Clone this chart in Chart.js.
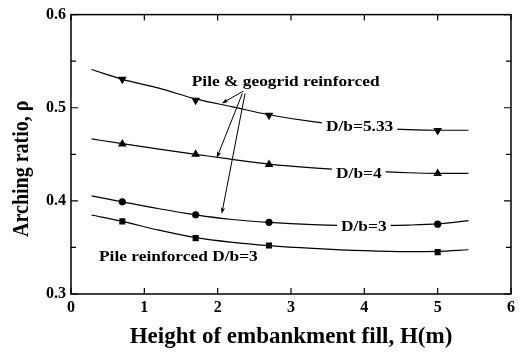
<!DOCTYPE html>
<html><head><meta charset="utf-8">
<script src="https://cdn.jsdelivr.net/npm/chart.js@4.4.1/dist/chart.umd.min.js"></script>
<style>html,body{margin:0;padding:0;background:#fff;}canvas{display:block;}</style>
</head><body>
<canvas id="c" width="521" height="353"></canvas>
<script>
// ---- data ----
const markerX = [0.7, 1.7, 2.7, 5];
const db533Values = [0.5305, 0.508, 0.492, 0.4755];
const db4Values = [0.461, 0.450, 0.439, 0.4295];
const db3Values = [0.399, 0.385, 0.377, 0.375];
const pileValues = [0.378, 0.360, 0.352, 0.345];

const curveX = [0.28, 0.7, 1.2, 1.7, 2.2, 2.7, 3.3, 4.0, 4.6, 5.0, 5.42];
const db533Curve = [0.541, 0.5305, 0.521, 0.5095, 0.501, 0.4925, 0.485, 0.479, 0.4765, 0.4758, 0.4758];
const db4Curve = [0.4665, 0.4615, 0.4555, 0.450, 0.4445, 0.4395, 0.4355, 0.4322, 0.4302, 0.4296, 0.4296];
const db3Curve = [0.4053, 0.399, 0.3915, 0.385, 0.380, 0.3768, 0.3745, 0.3735, 0.374, 0.3752, 0.3787];
const pileCurve = [0.3848, 0.378, 0.3685, 0.3605, 0.3555, 0.352, 0.349, 0.3465, 0.3455, 0.3458, 0.3475];

const xTickValues = [0, 1, 2, 3, 4, 5, 6];
const yTickValues = [0.3, 0.4, 0.5, 0.6];
const yMinorTickValues = [0.35, 0.45, 0.55];
const xTitle = 'Height of embankment fill, H(m)';
const yTitle = 'Arching ratio, \u03C1';
const yTitleCenterValue = 0.4345;

const annotationTexts = ['Pile & geogrid reinforced', 'D/b=5.33', 'D/b=4', 'D/b=3', 'Pile reinforced D/b=3'];
const annotationX = [1.646, 3.477, 3.614, 3.682, 0.382];
const annotationY = [0.5234, 0.475, 0.4241, 0.3681, 0.3351];
const annotationMasked = [false, true, true, true, false];
const arrowFromX = [2.35, 2.336, 2.373];
const arrowFromY = [0.5178, 0.5152, 0.5152];
const arrowToX = [2.055, 1.987, 2.055];
const arrowToY = [0.5046, 0.446, 0.3859];

// ---- chart ----
const FONT = "'Liberation Serif', 'Times New Roman', serif";
Chart.defaults.font.family = FONT;
Chart.defaults.font.weight = 'bold';
Chart.defaults.color = '#000';

const pts = (xs, ys) => xs.map((x, i) => ({x: x, y: ys[i]}));

const markerDs = (vals, style, rot, r) => ({
  data: pts(markerX, vals), showLine: false, pointStyle: style, rotation: rot,
  pointRadius: r, pointBackgroundColor: '#000', pointBorderColor: '#000', pointBorderWidth: 0, order: 0
});
const curveDs = (vals) => ({
  data: pts(curveX, vals), showLine: true, pointRadius: 0, borderColor: '#000', borderWidth: 1.2,
  cubicInterpolationMode: 'monotone', fill: false, order: 1
});

const STRETCH = 1.24;
const framePlugin = {
  id: 'frame',
  afterDatasetsDraw(chart) {
    const ctx = chart.ctx, xs = chart.scales.x, ys = chart.scales.y;
    const a = chart.chartArea;
    ctx.save();
    // annotations
    ctx.font = 'bold 14px ' + FONT;
    ctx.textBaseline = 'alphabetic';
    ctx.textAlign = 'left';
    annotationTexts.forEach((t, i) => {
      const px = xs.getPixelForValue(annotationX[i]);
      const py = ys.getPixelForValue(annotationY[i]);
      const w = ctx.measureText(t).width * STRETCH;
      if (annotationMasked[i]) {
        ctx.fillStyle = '#fff';
        ctx.fillRect(px - 4, py - 12, w + 8, 15);
      }
      ctx.fillStyle = '#000';
      ctx.save();
      ctx.translate(px, py);
      ctx.scale(STRETCH, 1);
      ctx.fillText(t, 0, 0);
      ctx.restore();
    });
    // arrows
    ctx.strokeStyle = '#000';
    ctx.fillStyle = '#000';
    ctx.lineWidth = 1;
    arrowFromX.forEach((_, i) => {
      const x1 = xs.getPixelForValue(arrowFromX[i]), y1 = ys.getPixelForValue(arrowFromY[i]);
      const x2 = xs.getPixelForValue(arrowToX[i]), y2 = ys.getPixelForValue(arrowToY[i]);
      const ang = Math.atan2(y2 - y1, x2 - x1);
      const L = 7, W = 0.32;
      ctx.beginPath(); ctx.moveTo(x1, y1); ctx.lineTo(x2 - Math.cos(ang) * 3, y2 - Math.sin(ang) * 3); ctx.stroke();
      ctx.beginPath();
      ctx.moveTo(x2, y2);
      ctx.lineTo(x2 - L * Math.cos(ang - W), y2 - L * Math.sin(ang - W));
      ctx.lineTo(x2 - L * 0.7 * Math.cos(ang), y2 - L * 0.7 * Math.sin(ang));
      ctx.lineTo(x2 - L * Math.cos(ang + W), y2 - L * Math.sin(ang + W));
      ctx.closePath(); ctx.fill();
    });
    // y-axis title
    ctx.save();
    ctx.font = 'bold 20px ' + FONT;
    ctx.textAlign = 'center';
    ctx.textBaseline = 'middle';
    ctx.translate(22, ys.getPixelForValue(yTitleCenterValue));
    ctx.rotate(-Math.PI / 2);
    ctx.scale(1, 1.2);
    ctx.fillText(yTitle, 0, 0);
    ctx.restore();
    // frame
    ctx.lineWidth = 1.5;
    ctx.strokeRect(a.left, a.top, a.right - a.left, a.bottom - a.top);
    // ticks (inward)
    ctx.lineWidth = 1.2;
    ctx.beginPath();
    xTickValues.forEach(v => {
      const p = xs.getPixelForValue(v);
      ctx.moveTo(p, a.bottom); ctx.lineTo(p, a.bottom - 6);
      ctx.moveTo(p, a.top); ctx.lineTo(p, a.top + 6);
    });
    yTickValues.forEach(v => {
      const p = ys.getPixelForValue(v);
      ctx.moveTo(a.left, p); ctx.lineTo(a.left + 7, p);
      ctx.moveTo(a.right, p); ctx.lineTo(a.right - 7, p);
    });
    yMinorTickValues.forEach(v => {
      const p = ys.getPixelForValue(v);
      ctx.moveTo(a.left, p); ctx.lineTo(a.left + 5, p);
      ctx.moveTo(a.right, p); ctx.lineTo(a.right - 5, p);
    });
    ctx.stroke();
    ctx.restore();
  }
};

new Chart(document.getElementById('c'), {
  type: 'scatter',
  data: {
    datasets: [
      markerDs(db533Values, 'triangle', 180, 5),
      markerDs(db4Values, 'triangle', 0, 5),
      markerDs(db3Values, 'circle', 0, 3.6),
      markerDs(pileValues, 'rect', 0, 4.3),
      curveDs(db533Curve),
      curveDs(db4Curve),
      curveDs(db3Curve),
      curveDs(pileCurve)
    ]
  },
  options: {
    responsive: false,
    animation: false,
    layout: {padding: {top: 12, right: 10, left: 0, bottom: 0}},
    plugins: {legend: {display: false}, tooltip: {enabled: false}},
    scales: {
      x: {
        type: 'linear', min: 0, max: 6,
        afterBuildTicks: s => { s.ticks = xTickValues.map(v => ({value: v})); },
        afterFit: s => { s.height = 59; },
        grid: {display: false, drawTicks: false},
        border: {display: false},
        ticks: {padding: 4, font: {size: 16, weight: 'bold'}, color: '#000', callback: v => String(v)},
        title: {display: true, text: xTitle, font: {size: 23, weight: 'bold'}, color: '#000', padding: {top: 0, bottom: 2}}
      },
      y: {
        type: 'linear', min: 0.3, max: 0.6,
        afterBuildTicks: s => { s.ticks = yTickValues.map(v => ({value: v})); },
        afterFit: s => { s.width = 71; },
        grid: {display: false, drawTicks: false},
        border: {display: false},
        ticks: {padding: 5, font: {size: 16, weight: 'bold'}, color: '#000', callback: v => v.toFixed(1)},
        title: {display: false, text: yTitle}
      }
    }
  },
  plugins: [framePlugin]
});
</script>
</body></html>
